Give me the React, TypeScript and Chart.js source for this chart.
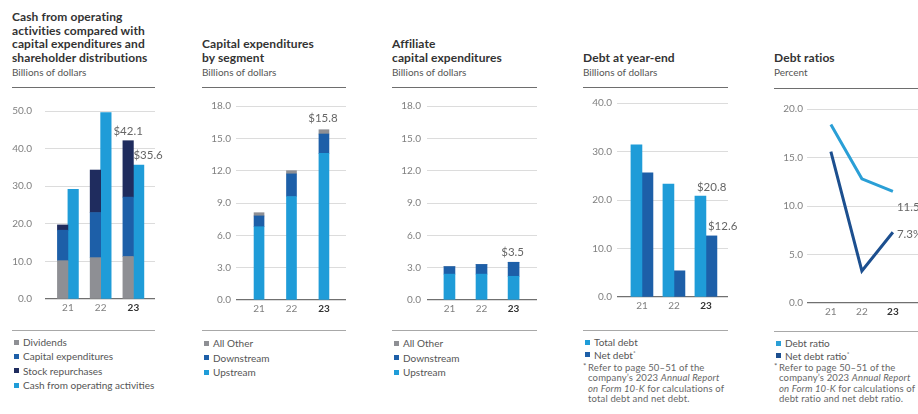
import React, { useEffect, useRef } from "react";
import { Chart, registerables } from "chart.js";

Chart.register(...registerables);

const FONT = "Lato, 'Open Sans', Arial, sans-serif";

// ---------- DATA ----------
const years = [21, 22, 23];
const highlightYear = 23;

// Cash from operating activities vs capex & distributions
const dividends = [10.2, 11.0, 11.3];
const capitalExpenditures = [8.1, 12.0, 15.8];
const stockRepurchases = [1.4, 11.3, 15.0];
const cashFromOperations = [29.2, 49.6, 35.6];

// Capital expenditures by segment
const capexUpstream = [6.8, 9.6, 13.6];
const capexDownstream = [1.0, 2.1, 1.8];
const capexAllOther = [0.3, 0.3, 0.4];

// Affiliate capital expenditures
const affUpstream = [2.4, 2.4, 2.2];
const affDownstream = [0.7, 0.9, 1.3];
const affAllOther = [0, 0, 0];

// Debt at year-end
const totalDebt = [31.4, 23.3, 20.8];
const netDebt = [25.6, 5.4, 12.6];

// Debt ratios (percent)
const debtRatio = [18.4, 12.8, 11.5];
const netDebtRatio = [15.6, 3.3, 7.3];

// y-axis ranges [min, max, step]
const yAxis1 = [0, 50, 10];
const yAxis2 = [0, 18, 3];
const yAxis3 = [0, 18, 3];
const yAxis4 = [0, 40, 10];
const yAxis5 = [0, 20, 5];

// ---------- COLOURS ----------
const GRAY = "#8e8f94";
const BLUE = "#1d5fa8";
const NAVY = "#1f2c5e";
const LIGHT = "#1f9cd8";
const RATIO_LIGHT = "#2a9fd6";
const RATIO_DARK = "#1c4f8f";

const sumAt = (arrs: number[][], i: number) =>
  arrs.reduce((s, a) => s + a[i], 0);
const last = years.length - 1;

// ---------- PLUGIN: value labels ----------
const valueLabels = {
  id: "valueLabels",
  afterDatasetsDraw(chart: any, _args: any, opts: any) {
    const items = (opts && opts.items) || [];
    const ctx = chart.ctx;
    ctx.save();
    ctx.font = `400 11.5px ${FONT}`;
    ctx.fillStyle = "#666";
    ctx.textBaseline = "middle";
    for (const it of items) {
      const el = chart.getDatasetMeta(it.ds).data[it.idx];
      if (!el) continue;
      const p = el.getProps(["x", "y", "width"], true);
      let tx = p.x + (it.dx || 0);
      if (it.align === "left") {
        ctx.textAlign = "left";
        tx = p.x - (p.width ? p.width / 2 : 0) + (it.dx || 0);
      } else {
        ctx.textAlign = "center";
      }
      ctx.fillText(it.text, tx, p.y + (it.dy || 0));
    }
    ctx.restore();
  },
};
Chart.register(valueLabels as any);

type Geom = {
  left: number;
  gridLeft: number;
  gridRight: number;
  chartTop: number;
  chartBottom: number;
  extraRight: number;
  yPad: number;
  xMin: number;
  xMax: number;
};

const PAD_TOP = 12;
const X_H = 20;

function scales(g: Geom, y: number[], stacked: boolean) {
  return {
    x: {
      type: "linear",
      min: g.xMin,
      max: g.xMax,
      offset: false,
      grid: { display: false, drawTicks: false },
      border: { display: false },
      ticks: {
        stepSize: 1,
        includeBounds: false,
        autoSkip: false,
        maxRotation: 0,
        padding: 3,
        callback: (v: any) => String(v),
        color: (c: any) =>
          c.tick && c.tick.value === highlightYear ? "#333" : "#808080",
        font: (c: any) => ({
          family: FONT,
          size: 10,
          weight: c.tick && c.tick.value === highlightYear ? "bold" : "normal",
        }),
      },
      afterFit: (s: any) => {
        s.height = X_H;
      },
    },
    y: {
      min: y[0],
      max: y[1],
      stacked,
      ticks: {
        stepSize: y[2],
        padding: g.yPad,
        color: "#808080",
        font: { family: FONT, size: 10 },
        callback: (v: any) => Number(v).toFixed(1),
      },
      grid: {
        drawTicks: false,
        color: (c: any) => (c.tick && c.tick.value === 0 ? "#707070" : "#d3d3d3"),
        lineWidth: (c: any) => (c.tick && c.tick.value === 0 ? 1.3 : 0.8),
      },
      border: { display: false },
      afterFit: (s: any) => {
        s.width = g.gridLeft - g.left;
      },
    },
  };
}

function makeConfig(type: string, g: Geom, y: number[], stacked: boolean, datasets: any[], labels: any[]) {
  return {
    type,
    data: { datasets },
    options: {
      animation: false,
      responsive: true,
      maintainAspectRatio: false,
      events: [],
      layout: { padding: { top: PAD_TOP, right: g.extraRight, left: 0, bottom: 0 } },
      scales: scales(g, y, stacked),
      plugins: {
        legend: { display: false },
        tooltip: { enabled: false },
        valueLabels: { items: labels },
      },
    },
  };
}

const pts = (vals: number[]) => years.map((x, i) => ({ x, y: vals[i] }));

function ChartBox({ g, config }: { g: Geom; config: any }) {
  const ref = useRef<HTMLCanvasElement>(null);
  useEffect(() => {
    const chart = new Chart(ref.current as HTMLCanvasElement, config);
    return () => chart.destroy();
  }, []);
  const width = g.gridRight - g.left + g.extraRight;
  const height = g.chartBottom - g.chartTop + PAD_TOP + X_H;
  return (
    <div
      style={{
        position: "absolute",
        left: g.left,
        top: g.chartTop - PAD_TOP,
        width,
        height,
      }}
    >
      <canvas ref={ref} />
    </div>
  );
}

// ---------- geometry ----------
const g1: Geom = { left: 12, gridLeft: 45, gridRight: 155, chartTop: 104, chartBottom: 299, extraRight: 14, yPad: 13, xMin: 20.3, xMax: 23.66 };
const g2: Geom = { left: 202, gridLeft: 236, gridRight: 346, chartTop: 106, chartBottom: 300, extraRight: 8, yPad: 5, xMin: 20.29, xMax: 23.68 };
const g3: Geom = { left: 392, gridLeft: 427, gridRight: 537, chartTop: 106, chartBottom: 300, extraRight: 8, yPad: 6, xMin: 20.3, xMax: 23.73 };
const g4: Geom = { left: 583, gridLeft: 617, gridRight: 728, chartTop: 103, chartBottom: 297, extraRight: 10, yPad: 5, xMin: 20.22, xMax: 23.69 };
const g5: Geom = { left: 774, gridLeft: 807, gridRight: 918, chartTop: 109, chartBottom: 303, extraRight: 0, yPad: 4, xMin: 20.23, xMax: 23.81 };

const bar = (label: string, vals: number[], color: string, stack: string, thick: number) => ({
  label,
  data: pts(vals),
  backgroundColor: color,
  stack,
  barThickness: thick,
  borderWidth: 0,
});

const config1 = makeConfig(
  "bar",
  g1,
  yAxis1,
  true,
  [
    bar("Dividends", dividends, GRAY, "dist", 10.5),
    bar("Capital expenditures", capitalExpenditures, BLUE, "dist", 10.5),
    bar("Stock repurchases", stockRepurchases, NAVY, "dist", 10.5),
    bar("Cash from operating activities", cashFromOperations, LIGHT, "ops", 10.5),
  ],
  [
    { ds: 2, idx: last, text: "$" + sumAt([dividends, capitalExpenditures, stockRepurchases], last).toFixed(1), align: "center", dy: -9 },
    { ds: 3, idx: last, text: "$" + cashFromOperations[last].toFixed(1), align: "left", dx: 0, dy: -10 },
  ]
);

const config2 = makeConfig(
  "bar",
  g2,
  yAxis2,
  true,
  [
    bar("Upstream", capexUpstream, LIGHT, "s", 10),
    bar("Downstream", capexDownstream, BLUE, "s", 10),
    bar("All Other", capexAllOther, GRAY, "s", 10),
  ],
  [{ ds: 2, idx: last, text: "$" + sumAt([capexUpstream, capexDownstream, capexAllOther], last).toFixed(1), align: "center", dx: -1, dy: -11 }]
);

const config3 = makeConfig(
  "bar",
  g3,
  yAxis3,
  true,
  [
    bar("Upstream", affUpstream, LIGHT, "s", 11),
    bar("Downstream", affDownstream, BLUE, "s", 11),
    bar("All Other", affAllOther, GRAY, "s", 11),
  ],
  [{ ds: 2, idx: last, text: "$" + sumAt([affUpstream, affDownstream, affAllOther], last).toFixed(1), align: "center", dx: -1, dy: -10 }]
);

const config4 = makeConfig(
  "bar",
  g4,
  yAxis4,
  false,
  [
    bar("Total debt", totalDebt, LIGHT, "t", 11),
    bar("Net debt", netDebt, BLUE, "n", 11),
  ],
  [
    { ds: 0, idx: last, text: "$" + totalDebt[last].toFixed(1), align: "left", dx: 2, dy: -9 },
    { ds: 1, idx: last, text: "$" + netDebt[last].toFixed(1), align: "left", dx: 2, dy: -10 },
  ]
);

const line = (label: string, vals: number[], color: string) => ({
  label,
  data: pts(vals),
  borderColor: color,
  backgroundColor: color,
  borderWidth: 3,
  pointRadius: 0,
  fill: false,
  tension: 0,
});

const config5 = makeConfig(
  "line",
  g5,
  yAxis5,
  false,
  [line("Debt ratio", debtRatio, RATIO_LIGHT), line("Net debt ratio", netDebtRatio, RATIO_DARK)],
  [
    { ds: 0, idx: last, text: debtRatio[last].toFixed(1) + "%", align: "left", dx: 4, dy: 16 },
    { ds: 1, idx: last, text: netDebtRatio[last].toFixed(1) + "%", align: "left", dx: 4, dy: 2 },
  ]
);

// ---------- HTML parts ----------
function Header({ left, lines, sub }: { left: number; lines: string[]; sub: string }) {
  return (
    <div
      style={{
        position: "absolute",
        left,
        top: 0,
        height: 78,
        display: "flex",
        flexDirection: "column",
        justifyContent: "flex-end",
        whiteSpace: "nowrap",
      }}
    >
      <div style={{ fontSize: 12, fontWeight: 700, lineHeight: "13.5px", color: "#333", letterSpacing: 0.1 }}>
        {lines.map((l, i) => (
          <div key={i}>{l}</div>
        ))}
      </div>
      <div style={{ fontSize: 10, lineHeight: "12px", marginTop: 2, color: "#555" }}>{sub}</div>
    </div>
  );
}

function Rule({ left, width, top, color }: { left: number; width: number; top: number; color: string }) {
  return (
    <div style={{ position: "absolute", left, top, width, height: 0, borderTop: `1.2px solid ${color}` }} />
  );
}

function Legend({ left, top, lh, items }: { left: number; top: number; lh: number; items: [string, string, boolean?][] }) {
  return (
    <div style={{ position: "absolute", left, top, fontSize: 10, color: "#555", whiteSpace: "nowrap" }}>
      {items.map(([label, color, star], i) => (
        <div key={i} style={{ height: lh, lineHeight: lh + "px", display: "flex", alignItems: "center" }}>
          <span style={{ display: "inline-block", width: 5, height: 5, background: color, marginLeft: 1.5, marginRight: 4.5 }} />
          <span>
            {label}
            {star ? <sup style={{ fontSize: 6.5 }}>*</sup> : null}
          </span>
        </div>
      ))}
    </div>
  );
}

function Footnote({ left, top, lastLine }: { left: number; top: number; lastLine: string }) {
  return (
    <div
      style={{
        position: "absolute",
        left,
        top,
        paddingLeft: 5,
        fontSize: 9.5,
        letterSpacing: 0.15,
        lineHeight: "10.3px",
        color: "#666",
        whiteSpace: "nowrap",
      }}
    >
      <span style={{ position: "absolute", left: 0, top: -2, fontSize: 8 }}>*</span>
      <div>Refer to page 50–51 of the</div>
      <div>
        company’s 2023 <i>Annual Report</i>
      </div>
      <div>
        <i>on Form 10-K</i> for calculations of
      </div>
      <div>{lastLine}</div>
    </div>
  );
}

export default function App() {
  return (
    <div
      style={{
        position: "fixed",
        left: 0,
        top: 0,
        width: 918,
        height: 414,
        overflow: "hidden",
        background: "#fff",
        fontFamily: FONT,
      }}
    >
      {/* Panel 1 */}
      <Header
        left={12}
        lines={["Cash from operating", "activities compared with", "capital expenditures and", "shareholder distributions"]}
        sub="Billions of dollars"
      />
      <Rule left={12} width={143} top={86.5} color="#6e6e6e" />
      <ChartBox g={g1} config={config1} />
      <Rule left={12} width={143} top={330} color="#a8a8a8" />
      <Legend
        left={12}
        top={335}
        lh={14.3}
        items={[
          ["Dividends", GRAY],
          ["Capital expenditures", BLUE],
          ["Stock repurchases", NAVY],
          ["Cash from operating activities", LIGHT],
        ]}
      />

      {/* Panel 2 */}
      <Header left={202} lines={["Capital expenditures", "by segment"]} sub="Billions of dollars" />
      <Rule left={202} width={144} top={86.5} color="#6e6e6e" />
      <ChartBox g={g2} config={config2} />
      <Rule left={202} width={144} top={330} color="#a8a8a8" />
      <Legend
        left={202}
        top={336}
        lh={14.5}
        items={[
          ["All Other", GRAY],
          ["Downstream", BLUE],
          ["Upstream", LIGHT],
        ]}
      />

      {/* Panel 3 */}
      <Header left={392} lines={["Affiliate", "capital expenditures"]} sub="Billions of dollars" />
      <Rule left={392} width={145} top={86.5} color="#6e6e6e" />
      <ChartBox g={g3} config={config3} />
      <Rule left={392} width={145} top={330} color="#a8a8a8" />
      <Legend
        left={392}
        top={336}
        lh={14.5}
        items={[
          ["All Other", GRAY],
          ["Downstream", BLUE],
          ["Upstream", LIGHT],
        ]}
      />

      {/* Panel 4 */}
      <Header left={583} lines={["Debt at year-end"]} sub="Billions of dollars" />
      <Rule left={583} width={145} top={86.5} color="#6e6e6e" />
      <ChartBox g={g4} config={config4} />
      <Rule left={583} width={145} top={329.5} color="#a8a8a8" />
      <Legend
        left={583}
        top={336}
        lh={12}
        items={[
          ["Total debt", LIGHT],
          ["Net debt", BLUE, true],
        ]}
      />
      <Footnote left={583} top={363} lastLine="total debt and net debt." />

      {/* Panel 5 */}
      <Header left={774} lines={["Debt ratios"]} sub="Percent" />
      <Rule left={774} width={144} top={87.5} color="#6e6e6e" />
      <ChartBox g={g5} config={config5} />
      <Rule left={774} width={144} top={330.5} color="#a8a8a8" />
      <Legend
        left={774}
        top={337}
        lh={12}
        items={[
          ["Debt ratio", RATIO_LIGHT],
          ["Net debt ratio", RATIO_DARK, true],
        ]}
      />
      <Footnote left={774} top={363} lastLine="debt ratio and net debt ratio." />
    </div>
  );
}
